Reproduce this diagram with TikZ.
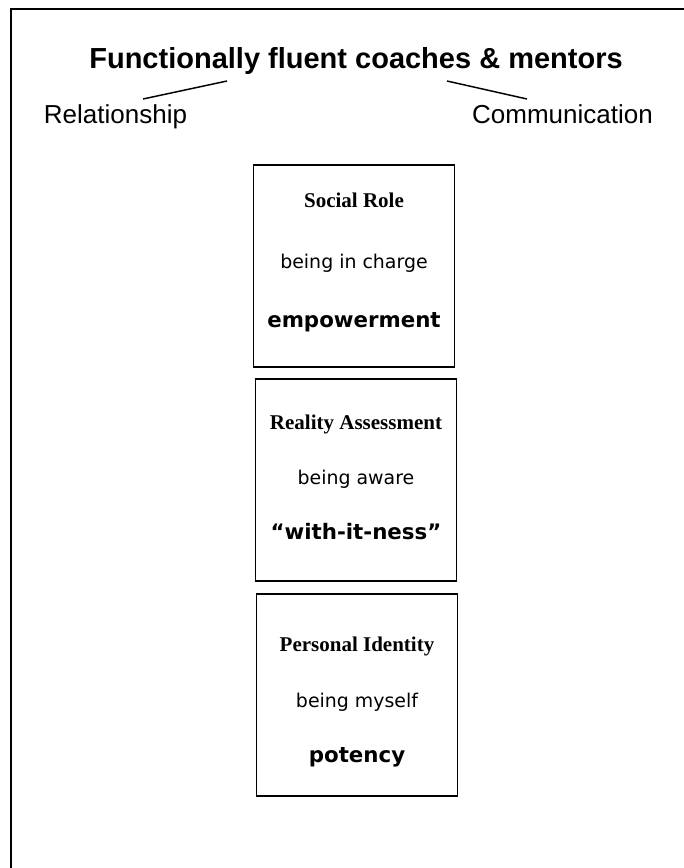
\documentclass[tikz,border=0pt]{standalone}
\usepackage{fontspec}
\setmainfont{Liberation Sans}
\newfontfamily\timesfont{Liberation Serif}
\newfontfamily\comicfont{DejaVu Sans}
\begin{document}
\begin{tikzpicture}[
    x=0.75pt, y=-0.75pt,
    frame/.style={line width=1.5pt},
    level/.style={draw, rectangle, line width=1.4pt, minimum width=150.75pt, minimum height=151.5pt, inner sep=0pt},
    heading/.style={anchor=base, inner sep=0pt, font=\timesfont\bfseries\fontsize{15.75}{18}\selectfont},
    phrase/.style={anchor=base, inner sep=0pt, font=\comicfont\fontsize{14.2}{17}\selectfont},
    keyword/.style={anchor=base, inner sep=0pt, font=\comicfont\bfseries\fontsize{16}{19}\selectfont},
    side/.style={anchor=base, inner sep=0pt, font=\fontsize{19.5}{23}\selectfont},
    tie/.style={line width=1.1pt}
  ]
  \useasboundingbox (0,0) rectangle (684,868);

  % Page frame (cut at right and bottom)
  \draw[frame] (11,868) -- (11,9) -- (684,9);

  % Title and its two sides
  \node[anchor=base, inner sep=0pt, font=\bfseries\fontsize{21.75}{26}\selectfont] (title) at (356,68) {Functionally fluent coaches \& mentors};
  \node[side] (relation) at (115.5,123) {Relationship};
  \node[side] (communication) at (562.5,123) {Communication};

  \coordinate (relationTie) at (143,99);
  \coordinate (titleTieL) at (227,81);
  \coordinate (titleTieR) at (447,81);
  \coordinate (communicationTie) at (527,99);
  \draw[tie] (relationTie) -- (titleTieL);
  \draw[tie] (titleTieR) -- (communicationTie);

  % Three stacked boxes
  \node[level] (social) at (354,266) {};
  \node[level] (reality) at (356,480) {};
  \node[level] (personal) at (357,695) {};

  \node[heading] (socialName) at (social |- 0,207) {Social Role};
  \node[phrase] (socialDoing) at (social |- 0,268) {being in charge};
  \node[keyword] (socialWord) at (social |- 0,327) {empowerment};

  \node[heading] (realityName) at (reality |- 0,429) {Reality Assessment};
  \node[phrase] (realityDoing) at (reality |- 0,484) {being aware};
  \node[keyword] (realityWord) at (reality |- 0,539) {“with-it-ness”};

  \node[heading] (personalName) at (personal |- 0,651) {Personal Identity};
  \node[phrase] (personalDoing) at (personal |- 0,707) {being myself};
  \node[keyword] (personalWord) at (personal |- 0,762) {potency};

\end{tikzpicture}
\end{document}
